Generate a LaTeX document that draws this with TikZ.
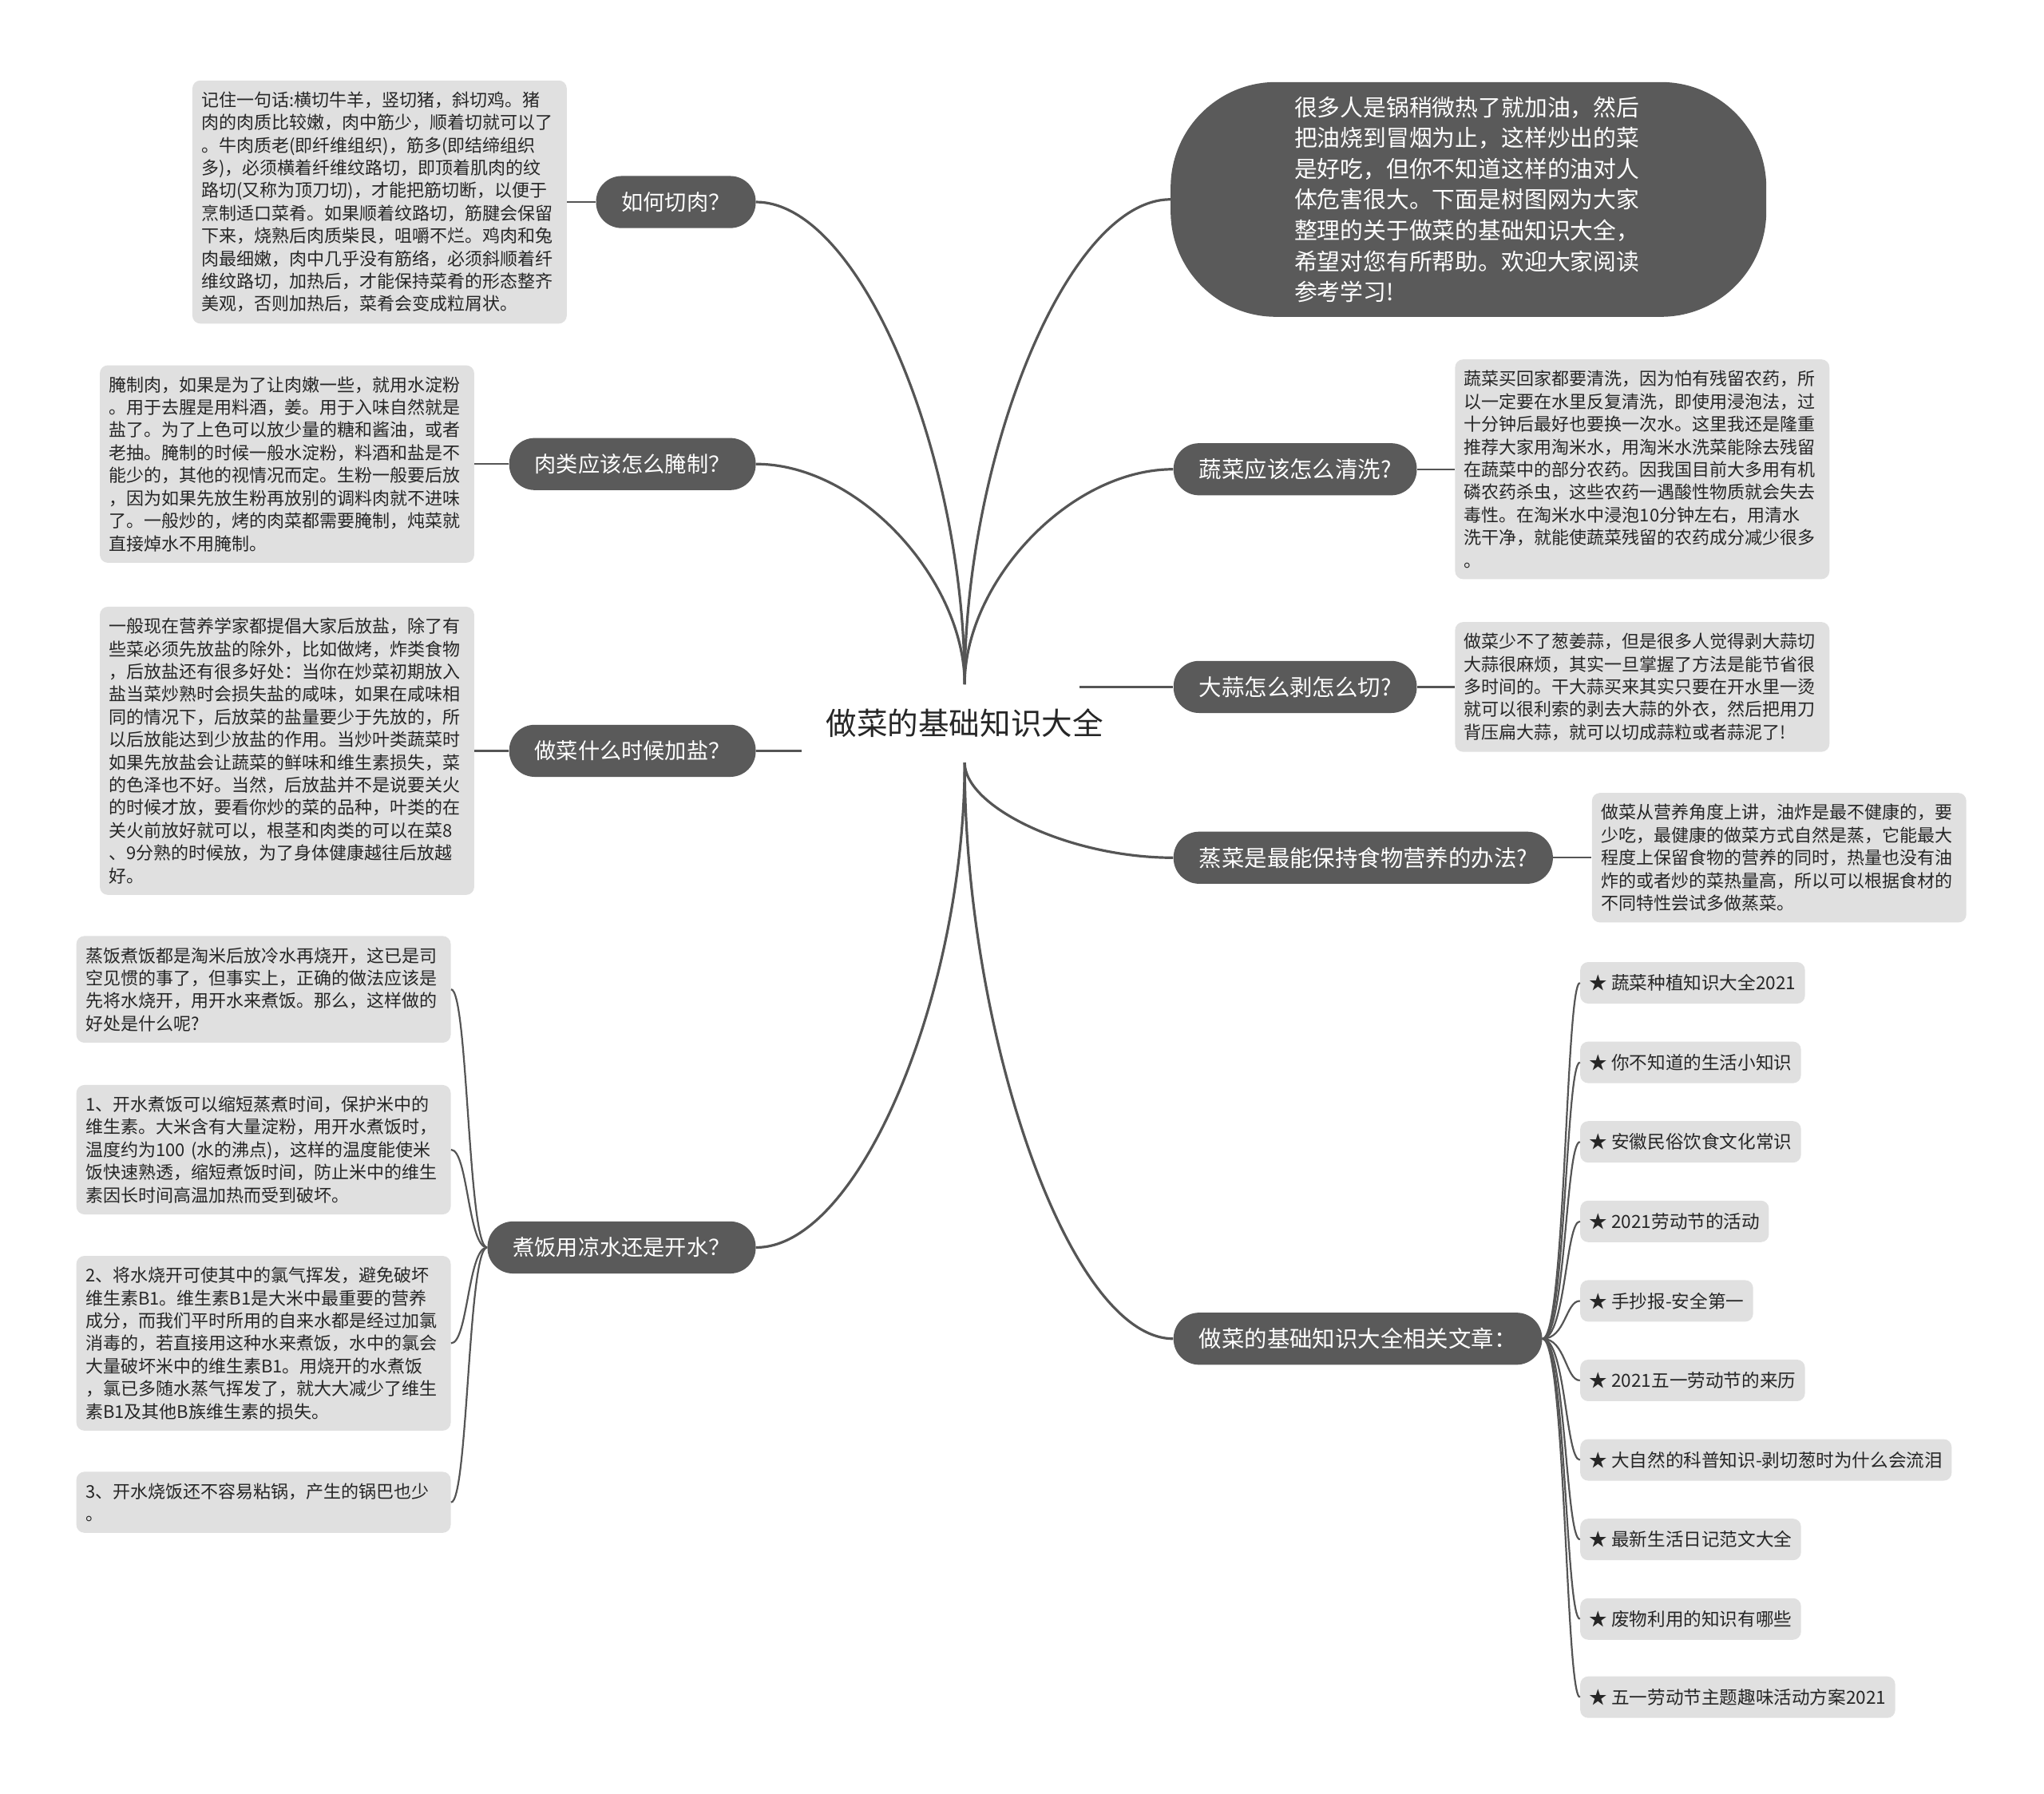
\documentclass[tikz,border=0pt]{standalone}
\usepackage{fontspec}
\setmainfont{Noto Sans CJK SC}
\definecolor{pillc}{HTML}{5A5A5A}
\definecolor{boxc}{HTML}{E0E0E0}
\definecolor{linec}{HTML}{555555}
\definecolor{txtc}{HTML}{262626}
\tikzset{
  pillL/.style={fill=pillc, text=white, rounded corners=16pt, minimum height=32.6pt,
    inner xsep=16pt, inner ysep=0pt, font=\fontsize{13.6}{16}\selectfont},
  pillR/.style={fill=pillc, text=white, rounded corners=16pt, minimum height=32.6pt,
    inner xsep=16pt, inner ysep=0pt, font=\fontsize{14.2}{17}\selectfont},
  introbox/.style={fill=pillc, text=white, rounded corners=66pt, minimum width=373pt,
    minimum height=147pt, text width=218pt, align=left, inner sep=0pt,
    font=\fontsize{14.4}{19.3}\selectfont},
  tbox/.style={fill=boxc, rounded corners=5pt, text width=223pt, inner xsep=5.7pt,
    inner ysep=7pt, align=left, text=txtc, font=\fontsize{11}{14.2}\selectfont},
  litem/.style={fill=boxc, rounded corners=5pt, minimum height=26pt, inner xsep=5.7pt,
    inner ysep=0pt, text=txtc, font=\fontsize{11.3}{13}\selectfont},
  cnode/.style={text=txtc, inner sep=0pt, font=\fontsize{19.3}{23}\selectfont},
  mainline/.style={draw=linec, line width=1.6pt},
  subline/.style={draw=linec, line width=1.1pt},
}
\begin{document}
\begin{tikzpicture}[x=0.8163pt,y=-0.8163pt]
\useasboundingbox (0,0) rectangle (1568,1376);
\fill[white] (0,0) rectangle (1568,1376);

% central topic
\node[cnode] (c) at (740,555) {做菜的基础知识大全};
\coordinate (ctop) at (740,525);
\coordinate (cbot) at (740,585);
\coordinate (cl) at (615,576);
\coordinate (cr) at (828,527);

% left branches
\node[pillL, anchor=east] (p1) at (580,155) {如何切肉？};
\node[pillL, anchor=east] (p2) at (580,356) {肉类应该怎么腌制？};
\node[pillL, anchor=east] (p3) at (580,576) {做菜什么时候加盐？};
\node[pillL, anchor=east] (p4) at (580,957) {煮饭用凉水还是开水？};

% right branches
\node[introbox] (p5) at (1126.5,153) {很多人是锅稍微热了就加油，然后\\把油烧到冒烟为止，这样炒出的菜\\是好吃，但你不知道这样的油对人\\体危害很大。下面是树图网为大家\\整理的关于做菜的基础知识大全，\\希望对您有所帮助。欢迎大家阅读\\参考学习!};
\node[pillR, anchor=west] (p6) at (900,360) {蔬菜应该怎么清洗?};
\node[pillR, anchor=west] (p7) at (900,527) {大蒜怎么剥怎么切?};
\node[pillR, anchor=west] (p8) at (900,658) {蒸菜是最能保持食物营养的办法?};
\node[pillR, anchor=west] (p9) at (900,1027) {做菜的基础知识大全相关文章：};

% left text boxes
\node[tbox, anchor=east] (b1) at (435,155) {记住一句话:横切牛羊，竖切猪，斜切鸡。猪\\肉的肉质比较嫩，肉中筋少，顺着切就可以了\\。牛肉质老(即纤维组织)，筋多(即结缔组织\\多)，必须横着纤维纹路切，即顶着肌肉的纹\\路切(又称为顶刀切)，才能把筋切断，以便于\\烹制适口菜肴。如果顺着纹路切，筋腱会保留\\下来，烧熟后肉质柴艮，咀嚼不烂。鸡肉和兔\\肉最细嫩，肉中几乎没有筋络，必须斜顺着纤\\维纹路切，加热后，才能保持菜肴的形态整齐\\美观，否则加热后，菜肴会变成粒屑状。};
\node[tbox, anchor=east] (b2) at (364,356) {腌制肉，如果是为了让肉嫩一些，就用水淀粉\\。用于去腥是用料酒，姜。用于入味自然就是\\盐了。为了上色可以放少量的糖和酱油，或者\\老抽。腌制的时候一般水淀粉，料酒和盐是不\\能少的，其他的视情况而定。生粉一般要后放\\，因为如果先放生粉再放别的调料肉就不进味\\了。一般炒的，烤的肉菜都需要腌制，炖菜就\\直接焯水不用腌制。};
\node[tbox, anchor=east] (b3) at (364,576) {一般现在营养学家都提倡大家后放盐，除了有\\些菜必须先放盐的除外，比如做烤，炸类食物\\，后放盐还有很多好处：当你在炒菜初期放入\\盐当菜炒熟时会损失盐的咸味，如果在咸味相\\同的情况下，后放菜的盐量要少于先放的，所\\以后放能达到少放盐的作用。当炒叶类蔬菜时\\如果先放盐会让蔬菜的鲜味和维生素损失，菜\\的色泽也不好。当然，后放盐并不是说要关火\\的时候才放，要看你炒的菜的品种，叶类的在\\关火前放好就可以，根茎和肉类的可以在菜8\\、9分熟的时候放，为了身体健康越往后放越\\好。};
\node[tbox, anchor=east] (b4a) at (346,759) {蒸饭煮饭都是淘米后放冷水再烧开，这已是司\\空见惯的事了，但事实上，正确的做法应该是\\先将水烧开，用开水来煮饭。那么，这样做的\\好处是什么呢?};
\node[tbox, anchor=east] (b4b) at (346,882) {1、开水煮饭可以缩短蒸煮时间，保护米中的\\维生素。大米含有大量淀粉，用开水煮饭时，\\温度约为100 (水的沸点)，这样的温度能使米\\饭快速熟透，缩短煮饭时间，防止米中的维生\\素因长时间高温加热而受到破坏。};
\node[tbox, anchor=east] (b4c) at (346,1030.5) {2、将水烧开可使其中的氯气挥发，避免破坏\\维生素B1。维生素B1是大米中最重要的营养\\成分，而我们平时所用的自来水都是经过加氯\\消毒的，若直接用这种水来煮饭，水中的氯会\\大量破坏米中的维生素B1。用烧开的水煮饭\\，氯已多随水蒸气挥发了，就大大减少了维生\\素B1及其他B族维生素的损失。};
\node[tbox, anchor=east] (b4d) at (346,1152.5) {3、开水烧饭还不容易粘锅，产生的锅巴也少\\。};

% right text boxes
\node[tbox, anchor=west] (b6) at (1116,360) {蔬菜买回家都要清洗，因为怕有残留农药，所\\以一定要在水里反复清洗，即使用浸泡法，过\\十分钟后最好也要换一次水。这里我还是隆重\\推荐大家用淘米水，用淘米水洗菜能除去残留\\在蔬菜中的部分农药。因我国目前大多用有机\\磷农药杀虫，这些农药一遇酸性物质就会失去\\毒性。在淘米水中浸泡10分钟左右，用清水\\洗干净，就能使蔬菜残留的农药成分减少很多\\。};
\node[tbox, anchor=west] (b7) at (1116,527) {做菜少不了葱姜蒜，但是很多人觉得剥大蒜切\\大蒜很麻烦，其实一旦掌握了方法是能节省很\\多时间的。干大蒜买来其实只要在开水里一烫\\就可以很利索的剥去大蒜的外衣，然后把用刀\\背压扁大蒜，就可以切成蒜粒或者蒜泥了!};
\node[tbox, anchor=west] (b8) at (1221,658) {做菜从营养角度上讲，油炸是最不健康的，要\\少吃，最健康的做菜方式自然是蒸，它能最大\\程度上保留食物的营养的同时，热量也没有油\\炸的或者炒的菜热量高，所以可以根据食材的\\不同特性尝试多做蒸菜。};

% related articles
\node[litem, anchor=west] (r1) at (1212,754) {★ 蔬菜种植知识大全2021};
\node[litem, anchor=west] (r2) at (1212,815) {★ 你不知道的生活小知识};
\node[litem, anchor=west] (r3) at (1212,876) {★ 安徽民俗饮食文化常识};
\node[litem, anchor=west] (r4) at (1212,937) {★ 2021劳动节的活动};
\node[litem, anchor=west] (r5) at (1212,998) {★ 手抄报-安全第一};
\node[litem, anchor=west] (r6) at (1212,1059) {★ 2021五一劳动节的来历};
\node[litem, anchor=west] (r7) at (1212,1120) {★ 大自然的科普知识-剥切葱时为什么会流泪};
\node[litem, anchor=west] (r8) at (1212,1181) {★ 最新生活日记范文大全};
\node[litem, anchor=west] (r9) at (1212,1242) {★ 废物利用的知识有哪些};
\node[litem, anchor=west] (r10) at (1212,1302) {★ 五一劳动节主题趣味活动方案2021};

% main connectors
\draw[mainline] (ctop) .. controls (740,350) and (660,155) .. (p1.east);
\draw[mainline] (ctop) .. controls (740,446) and (660,356) .. (p2.east);
\draw[mainline] (cl) -- (p3.east);
\draw[mainline] (cbot) .. controls (740,760) and (660,957) .. (p4.east);
\draw[mainline] (ctop) .. controls (740,350) and (819,153) .. (p5.west);
\draw[mainline] (ctop) .. controls (740,447) and (820,360) .. (p6.west);
\draw[mainline] (cr) -- (p7.west);
\draw[mainline] (cbot) .. controls (740,619) and (820,658) .. (p8.west);
\draw[mainline] (cbot) .. controls (740,793) and (820,1027) .. (p9.west);

% pill to text box
\draw[subline] (p1.west) -- (p1.west -| b1.east);
\draw[subline] (p2.west) -- (p2.west -| b2.east);
\draw[subline] (p3.west) -- (p3.west -| b3.east);
\draw[subline] (p6.east) -- (p6.east -| b6.west);
\draw[subline] (p7.east) -- (p7.east -| b7.west);
\draw[subline] (p8.east) -- (p8.east -| b8.west);

% rice branch
\draw[subline] (p4.west) .. controls (359,957) and (359,759) .. (b4a.east);
\draw[subline] (p4.west) .. controls (359,957) and (359,882) .. (b4b.east);
\draw[subline] (p4.west) .. controls (359,957) and (359,1030.5) .. (b4c.east);
\draw[subline] (p4.west) .. controls (359,957) and (359,1152.5) .. (b4d.east);

% related articles
\foreach \r/\yy in {r1/754,r2/815,r3/876,r4/937,r5/998,r6/1059,r7/1120,r8/1181,r9/1242,r10/1302}{
  \draw[subline] (p9.east) .. controls (1201,1027) and (1201,\yy) .. (\r.west);
}
\end{tikzpicture}
\end{document}
